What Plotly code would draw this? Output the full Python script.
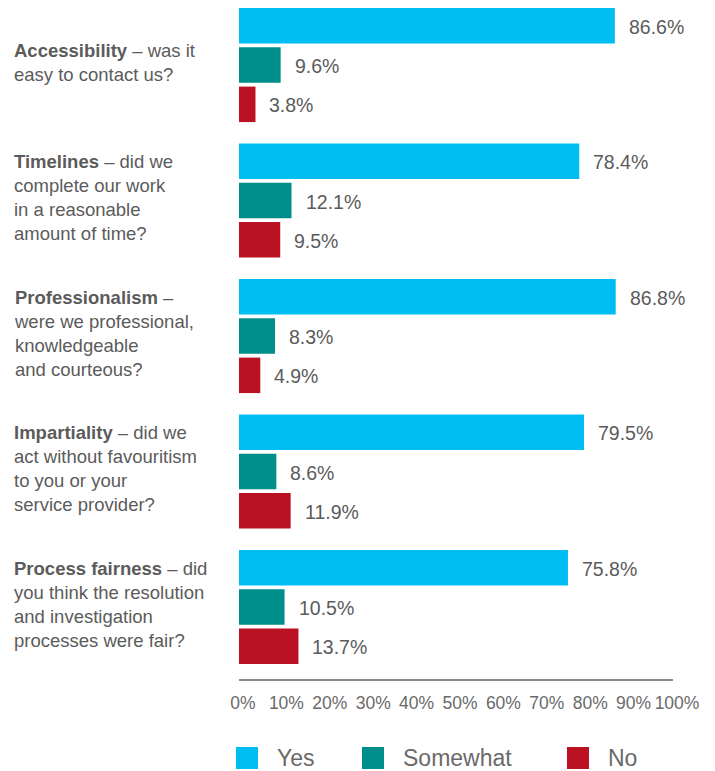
import plotly.graph_objects as go

# Survey questions (bold lead-in + rest of the question, line breaks as laid out)
questions = ["Accessibility", "Timelines", "Professionalism", "Impartiality", "Process fairness"]
question_text = [
    "<b>Accessibility</b> – was it<br>easy to contact us?",
    "<b>Timelines</b> – did we<br>complete our work<br>in a reasonable<br>amount of time?",
    "<b>Professionalism</b> –<br>were we professional,<br>knowledgeable<br>and courteous?",
    "<b>Impartiality</b> – did we<br>act without favouritism<br>to you or your<br>service provider?",
    "<b>Process fairness</b> – did<br>you think the resolution<br>and investigation<br>processes were fair?",
]

series_names = ["Yes", "Somewhat", "No"]
yes = [86.6, 78.4, 86.8, 79.5, 75.8]
somewhat = [9.6, 12.1, 8.3, 8.6, 10.5]
no = [3.8, 9.5, 4.9, 11.9, 13.7]

tick_values = [0, 10, 20, 30, 40, 50, 60, 70, 80, 90, 100]
tick_labels = ["0%", "10%", "20%", "30%", "40%", "50%", "60%", "70%", "80%", "90%", "100%"]

colors = {"Yes": "#00BEF2", "Somewhat": "#008E8A", "No": "#BA1223"}
text_color = "#5b5b5b"
font_family = "Liberation Sans, Arial, Helvetica, sans-serif"

W, H = 715, 771
M_L, M_R, M_T, M_B = 239, 42, 0, 92
plot_w = W - M_L - M_R
plot_h = H - M_T - M_B

fig = go.Figure()
for name, vals in zip(series_names, [yes, somewhat, no]):
    fig.add_trace(go.Bar(
        x=vals, y=questions, orientation="h", name=name,
        marker=dict(color=colors[name], line=dict(width=0)),
        showlegend=False,
    ))

annotations = []
# value labels beside each bar
offsets = {"Yes": -1, "Somewhat": 0, "No": 1}
for name, vals in zip(series_names, [yes, somewhat, no]):
    for q, v in zip(questions, vals):
        annotations.append(dict(
            x=v, y=q, xref="x", yref="y", text=f"{v:.1f}%",
            showarrow=False, xanchor="left", yanchor="middle",
            xshift=12, yshift=-offsets[name] * 39.3 - 1,
            font=dict(size=19.5, color=text_color, family=font_family),
        ))

# question labels on the left
for q, t in zip(questions, question_text):
    annotations.append(dict(
        x=(12 - M_L) / plot_w, xref="paper", y=q, yref="y", text=t,
        showarrow=False, xanchor="left", yanchor="middle", align="left",
        yshift=3,
        font=dict(size=18.5, color=text_color, family=font_family),
    ))

# legend row below the axis
shapes = []
legend_items = [("Yes", 236, 275), ("Somewhat", 362, 401), ("No", 567, 606)]
sq = 22
top_px = 747
for name, sx, tx in legend_items:
    x0 = (sx - M_L) / plot_w
    x1 = (sx + sq - M_L) / plot_w
    y0 = 1 - (top_px - M_T) / plot_h
    y1 = 1 - (top_px + sq - M_T) / plot_h
    shapes.append(dict(type="rect", xref="paper", yref="paper",
                       x0=x0, x1=x1, y0=y1, y1=y0,
                       fillcolor=colors[name], line=dict(width=0)))
    annotations.append(dict(
        x=(tx - M_L) / plot_w, xref="paper",
        y=1 - (top_px + sq / 2 - M_T) / plot_h, yref="paper",
        text=name, showarrow=False, xanchor="left", yanchor="middle",
        font=dict(size=23, color="#6a6a6a", family=font_family),
    ))

fig.update_layout(
    width=W, height=H,
    margin=dict(l=M_L, r=M_R, t=M_T, b=M_B, pad=0),
    paper_bgcolor="white", plot_bgcolor="white",
    barmode="group", bargap=0.13, bargroupgap=0.097,
    annotations=annotations, shapes=shapes,
    showlegend=False,
    xaxis=dict(
        range=[0, 100], tickvals=tick_values, ticktext=tick_labels,
        showgrid=False, zeroline=False, showline=True,
        linecolor="#8a8a8a", linewidth=1.5, ticks="",
        tickfont=dict(size=17.5, color="#6a6a6a", family=font_family),
        ticklabelshift=4, ticklabelstandoff=7,
    ),
    yaxis=dict(
        range=[4.531, -0.48], showticklabels=False, showgrid=False,
        zeroline=False, showline=False, ticks="",
    ),
)

fig.write_html("out.html")
